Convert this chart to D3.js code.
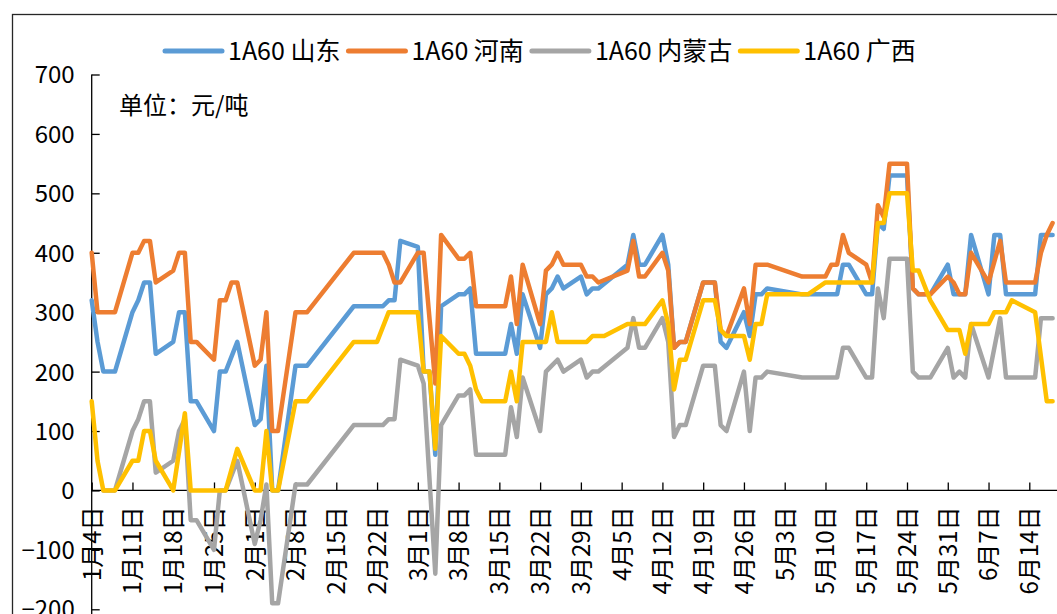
<!DOCTYPE html>
<html>
<head>
<meta charset="utf-8">
<script src="https://cdnjs.cloudflare.com/ajax/libs/d3/7.8.5/d3.min.js"></script>
<style>
body { margin: 0; background: #fff; }
svg text { font-family: "Noto Sans CJK SC", "Noto Sans", sans-serif; fill: #000; }
</style>
</head>
<body>
<svg id="chart" width="1057" height="614"></svg>
<script>
// 1A60 prices, 2021, yuan/ton
var shandongDates = ["01-04","01-05","01-06","01-08","01-11","01-12","01-13","01-14","01-15","01-18","01-19","01-20","01-21","01-22","01-25","01-26","01-27","01-29",
	"02-01","02-02","02-03","02-04","02-05","02-08","02-10","02-18","02-23","02-24","02-25","02-26",
	"03-01","03-02","03-03","03-04","03-05","03-08","03-09","03-10","03-11","03-16","03-17","03-18","03-19","03-22","03-23","03-24","03-25","03-26","03-29","03-30","03-31",
	"04-01","04-06","04-07","04-08","04-09","04-12","04-13","04-14","04-15","04-16","04-19","04-21","04-22","04-23","04-26","04-27","04-28","04-29","04-30",
	"05-06","05-12","05-13","05-14","05-17","05-18","05-19","05-20","05-21","05-24","05-25","05-26","05-28","05-31",
	"06-01","06-03","06-04","06-07","06-08","06-09","06-10","06-15","06-16","06-18"];
var shandongValues = [320,250,200,200,300,320,350,350,230,250,300,300,150,150,100,200,200,250,
	110,120,210,0,0,210,210,310,310,320,320,420,
	410,200,200,60,310,330,330,340,230,230,280,230,330,240,330,340,360,340,360,330,340,
	340,380,430,380,380,430,380,240,250,250,350,350,250,240,300,260,330,330,340,
	330,330,380,380,330,330,450,440,530,530,340,330,330,380,
	330,330,430,330,430,430,330,330,430,430];

var henanDates = ["01-04","01-05","01-08","01-11","01-12","01-13","01-14","01-15","01-18","01-19","01-20","01-21","01-22","01-25","01-26","01-27","01-28","01-29",
	"02-01","02-02","02-03","02-04","02-05","02-08","02-10","02-18","02-23","02-24","02-25","02-26",
	"03-01","03-02","03-04","03-05","03-08","03-09","03-10","03-11","03-16","03-17","03-18","03-19","03-22","03-23","03-24","03-25","03-26","03-29","03-30","03-31",
	"04-01","04-06","04-07","04-08","04-09","04-12","04-13","04-14","04-15","04-16","04-19","04-21","04-22","04-23","04-26","04-27","04-28","04-30",
	"05-06","05-10","05-11","05-12","05-13","05-14","05-17","05-18","05-19","05-20","05-21","05-24","05-25","05-26","05-28","05-31",
	"06-01","06-02","06-03","06-04","06-07","06-09","06-10","06-15","06-16","06-17","06-18"];
var henanValues = [400,300,300,400,400,420,420,350,370,400,400,250,250,220,320,320,350,350,
	210,220,300,100,100,300,300,400,400,380,350,350,
	400,400,180,430,390,390,400,310,310,360,280,380,280,370,380,400,380,380,360,360,
	350,370,420,360,360,400,370,240,250,250,350,350,270,260,340,280,380,380,
	360,360,380,380,430,400,380,350,480,460,550,550,340,330,330,360,
	350,330,330,400,350,420,350,350,400,430,450];

var neimengDates = ["01-06","01-08","01-11","01-12","01-13","01-14","01-15","01-18","01-19","01-20","01-21","01-22","01-25","01-26","01-27","01-29",
	"02-01","02-02","02-03","02-04","02-05","02-08","02-10","02-18","02-23","02-24","02-25","02-26",
	"03-01","03-02","03-04","03-05","03-08","03-09","03-10","03-11","03-16","03-17","03-18","03-19","03-22","03-23","03-24","03-25","03-26","03-29","03-30","03-31",
	"04-01","04-06","04-07","04-08","04-09","04-12","04-13","04-14","04-15","04-16","04-19","04-21","04-22","04-23","04-26","04-27","04-28","04-29","04-30",
	"05-06","05-12","05-13","05-14","05-17","05-18","05-19","05-20","05-21","05-24","05-25","05-26","05-28","05-31",
	"06-01","06-02","06-03","06-04","06-07","06-09","06-10","06-15","06-16","06-18"];
var neimengValues = [0,0,100,120,150,150,30,50,100,120,-50,-50,-100,0,0,50,
	-90,-50,10,-190,-190,10,10,110,110,120,120,220,
	210,180,-140,110,160,160,170,60,60,140,90,190,100,200,210,220,200,220,190,200,
	200,240,290,240,240,290,250,90,110,110,210,210,110,100,200,100,190,190,200,
	190,190,240,240,190,190,340,290,390,390,200,190,190,240,
	190,200,190,280,190,290,190,190,290,290];

var guangxiDates = ["01-04","01-05","01-06","01-08","01-11","01-12","01-13","01-14","01-15","01-18","01-20","01-21","01-27","01-29",
	"02-01","02-02","02-03","02-04","02-05","02-08","02-10","02-18","02-22","02-24",
	"03-01","03-02","03-03","03-04","03-05","03-08","03-09","03-10","03-11","03-12","03-16","03-17","03-18","03-19","03-23","03-24","03-25","03-30","03-31",
	"04-02","04-06","04-09","04-12","04-13","04-14","04-15","04-16","04-19","04-21","04-22","04-23","04-26","04-27","04-28","04-29","04-30",
	"05-07","05-10","05-18","05-19","05-20","05-21","05-24","05-25","05-26","05-28","05-31",
	"06-02","06-03","06-04","06-07","06-08","06-10","06-11","06-15","06-17","06-18"];
var guangxiValues = [150,50,0,0,50,50,100,100,50,0,130,0,0,70,
	0,0,100,0,0,150,150,250,250,300,
	300,200,200,70,260,230,230,210,170,150,150,200,150,250,250,300,250,250,260,
	260,280,280,320,280,170,220,220,320,320,270,260,260,220,280,280,330,
	330,350,350,450,450,500,500,370,370,320,270,
	270,230,280,280,300,300,320,300,150,150];

var seriesNames = ["1A60 山东", "1A60 河南", "1A60 内蒙古", "1A60 广西"];
var seriesColors = ["#5B9BD5", "#ED7D31", "#A5A5A5", "#FFC000"];
var yTicks = [-200, -100, 0, 100, 200, 300, 400, 500, 600, 700];
var unitLabel = "单位：元/吨";

var parseDay = d3.utcParse("%Y-%m-%d");

function toPoints(dates, values) {
	var pts = [];
	for (var i = 0; i < dates.length; i++) {
		pts.push({ date: parseDay("2021-" + dates[i]), value: values[i] });
	}
	return pts;
}

var series = [
	toPoints(shandongDates, shandongValues),
	toPoints(henanDates, henanValues),
	toPoints(neimengDates, neimengValues),
	toPoints(guangxiDates, guangxiValues)
];

var svg = d3.select("#chart");

// chart border
svg.append("rect")
	.attr("x", 12.5).attr("y", 14.5)
	.attr("width", 1100).attr("height", 700)
	.style("fill", "none")
	.style("stroke", "#262626")
	.style("stroke-width", 1.3);

var firstDay = parseDay("2021-01-04");
var lastTick = parseDay("2021-06-14");

var x = d3.scaleUtc()
	.domain([firstDay, lastTick])
	.range([91.7, 1029.3]);

var y = d3.scaleLinear()
	.domain([-200, 700])
	.range([609.3, 74.5]);

// y axis, ticks point inwards
var yAxis = svg.append("g")
	.attr("transform", "translate(91.7,0)")
	.call(d3.axisLeft(y).tickValues(yTicks).tickSize(-8).tickPadding(17));
yAxis.select(".domain").remove();
yAxis.selectAll("line").style("stroke", "#000").style("stroke-width", 1.3);
yAxis.selectAll("text").style("font-size", "24px").attr("dy", "0.35em");
yAxis.append("line")
	.attr("x1", 0).attr("x2", 0)
	.attr("y1", y(700)).attr("y2", 614)
	.style("stroke", "#000").style("stroke-width", 1.3);

// x axis at zero, one tick per week
var weekTicks = d3.utcMonday.range(firstDay, d3.utcDay.offset(lastTick, 1));
var xAxis = svg.append("g")
	.attr("transform", "translate(0," + y(0) + ")")
	.call(d3.axisBottom(x).tickValues(weekTicks).tickSize(-8)
		.tickFormat(function (d) {
			return (d.getUTCMonth() + 1) + "月" + d.getUTCDate() + "日";
		}));
xAxis.select(".domain").remove();
xAxis.selectAll("line").style("stroke", "#000").style("stroke-width", 1.3);
xAxis.selectAll("text")
	.style("font-size", "24px")
	.attr("transform", "rotate(-90)")
	.attr("text-anchor", "end")
	.attr("x", -16)
	.attr("y", 0)
	.attr("dy", "0.35em");
xAxis.append("line")
	.attr("x1", x(firstDay)).attr("x2", 1057)
	.attr("y1", 0).attr("y2", 0)
	.style("stroke", "#000").style("stroke-width", 1.3);

// series lines
var lineGen = d3.line()
	.x(function (d) { return x(d.date); })
	.y(function (d) { return y(d.value); });

svg.selectAll("path.series")
	.data(series)
	.enter().append("path")
	.attr("class", "series")
	.attr("d", function (d) { return lineGen(d); })
	.style("fill", "none")
	.style("stroke", function (d, i) { return seriesColors[i]; })
	.style("stroke-width", 4.5)
	.style("stroke-linejoin", "round")
	.style("stroke-linecap", "round");

// unit note
svg.append("text")
	.attr("x", 119).attr("y", 106)
	.attr("dy", "0.35em")
	.style("font-size", "24px")
	.text(unitLabel);

// legend
var lx = 165;
for (var i = 0; i < seriesNames.length; i++) {
	svg.append("line")
		.attr("x1", lx).attr("x2", lx + 57)
		.attr("y1", 51).attr("y2", 51)
		.style("stroke", seriesColors[i])
		.style("stroke-width", 5)
		.style("stroke-linecap", "round");
	var t = svg.append("text")
		.attr("x", lx + 63).attr("y", 51)
		.attr("dy", "0.35em")
		.style("font-size", "25px")
		.text(seriesNames[i]);
	lx = lx + 63 + t.node().getComputedTextLength() + 8;
}
</script>
</body>
</html>
